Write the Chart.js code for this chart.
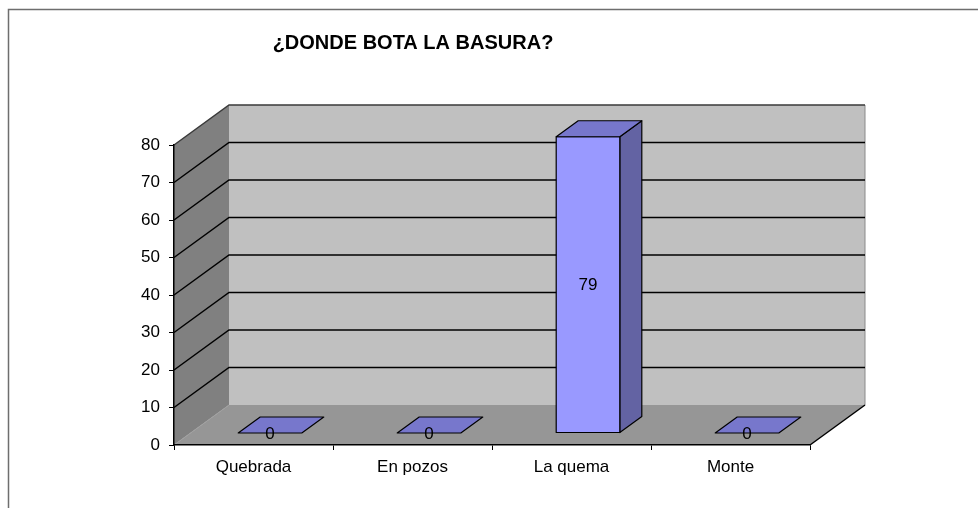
<!DOCTYPE html>
<html>
<head>
<meta charset="utf-8">
<script src="https://cdn.jsdelivr.net/npm/chart.js@4.4.1/dist/chart.umd.min.js"></script>
<style>
  html, body { margin: 0; padding: 0; background: #fff; }
  canvas { display: block; }
</style>
</head>
<body>
<canvas id="grafico" width="978" height="508"></canvas>
<script>
// datos de la encuesta
const titulo = '¿DONDE BOTA LA BASURA?';
const categorias = ['Quebrada', 'En pozos', 'La quema', 'Monte'];
const valores = [0, 0, 79, 0];
const ticksY = [0, 10, 20, 30, 40, 50, 60, 70, 80];

const fuente = "'Liberation Sans', Arial, sans-serif";
// desplazamiento hacia la pared del fondo (efecto 3D)
const prof = { dx: 55, dy: -40 };
const frenteBarra = 0.3, fondoBarra = 0.7;

const colores = {
  fondo: '#c0c0c0', lateral: '#808080', piso: '#969696',
  frente: '#9999ff', tapa: '#7777cc', lado: '#6363a3'
};

function poligono(ctx, pts, relleno, trazo, grosor) {
  ctx.beginPath();
  ctx.moveTo(pts[0][0], pts[0][1]);
  for (let i = 1; i < pts.length; i++) ctx.lineTo(pts[i][0], pts[i][1]);
  ctx.closePath();
  if (relleno) { ctx.fillStyle = relleno; ctx.fill(); }
  if (trazo) { ctx.strokeStyle = trazo; ctx.lineWidth = grosor || 1; ctx.stroke(); }
}

// paredes, piso y lineas de division
const paredes = {
  id: 'paredes',
  beforeDraw(chart) {
    const { ctx, chartArea: a, scales: { y } } = chart;
    const dx = prof.dx, dy = prof.dy;
    ctx.save();

    // marco del grafico
    ctx.strokeStyle = '#6e6e6e';
    ctx.lineWidth = 1.5;
    ctx.beginPath();
    ctx.moveTo(8.5, 508); ctx.lineTo(8.5, 9.5); ctx.lineTo(978, 9.5);
    ctx.stroke();

    // pared del fondo
    poligono(ctx, [[a.left + dx, a.top + dy], [a.right + dx, a.top + dy],
      [a.right + dx, a.bottom + dy], [a.left + dx, a.bottom + dy]], colores.fondo);
    // pared lateral
    poligono(ctx, [[a.left, a.bottom], [a.left, a.top], [a.left + dx, a.top + dy],
      [a.left + dx, a.bottom + dy]], colores.lateral);
    // piso
    poligono(ctx, [[a.left, a.bottom], [a.right, a.bottom], [a.right + dx, a.bottom + dy],
      [a.left + dx, a.bottom + dy]], colores.piso);

    // borde derecho de la pared del fondo
    ctx.strokeStyle = '#8a8a8a';
    ctx.lineWidth = 1;
    ctx.beginPath();
    ctx.moveTo(a.right + dx, a.top + dy); ctx.lineTo(a.right + dx, a.bottom + dy);
    ctx.stroke();

    // lineas de division
    ticksY.forEach(v => {
      const py = y.getPixelForValue(v);
      ctx.beginPath();
      if (v === 0) {
        ctx.strokeStyle = '#a0a0a0';
        ctx.lineWidth = 1;
        ctx.moveTo(a.left, py); ctx.lineTo(a.left + dx, py + dy);
      } else {
        ctx.strokeStyle = v === 80 ? '#3a3a3a' : '#000';
        ctx.lineWidth = 1.5;
        ctx.moveTo(a.left, py); ctx.lineTo(a.left + dx, py + dy); ctx.lineTo(a.right + dx, py + dy);
      }
      ctx.stroke();
    });

    // borde derecho del piso
    ctx.strokeStyle = '#000';
    ctx.lineWidth = 1.5;
    ctx.beginPath();
    ctx.moveTo(a.right, a.bottom); ctx.lineTo(a.right + dx, a.bottom + dy);
    ctx.stroke();
    ctx.restore();
  },
  afterDraw(chart) {
    const { ctx } = chart;
    ctx.save();
    ctx.fillStyle = '#000';
    ctx.font = 'bold 20px ' + fuente;
    ctx.textAlign = 'center';
    ctx.textBaseline = 'alphabetic';
    ctx.fillText(titulo, 413, 49);
    ctx.restore();
  }
};

// barras en 3D con su etiqueta
const barras3d = {
  id: 'barras3d',
  afterDatasetsDraw(chart) {
    const { ctx } = chart;
    const meta = chart.getDatasetMeta(0);
    const ox = prof.dx * (fondoBarra - frenteBarra);
    const oy = prof.dy * (fondoBarra - frenteBarra);
    ctx.save();
    ctx.lineJoin = 'round';
    meta.data.forEach((bar, i) => {
      const w = bar.width;
      const x0 = bar.x - w / 2 + prof.dx * frenteBarra;
      const x1 = x0 + w;
      const yt = bar.y + prof.dy * frenteBarra;
      const yb = bar.base + prof.dy * frenteBarra;
      if (yb - yt > 0.5) {
        poligono(ctx, [[x1, yt], [x1 + ox, yt + oy], [x1 + ox, yb + oy], [x1, yb]], colores.lado, '#000', 1.2);
        poligono(ctx, [[x0, yt], [x1, yt], [x1, yb], [x0, yb]], colores.frente, '#000', 1.2);
      }
      poligono(ctx, [[x0, yt], [x1, yt], [x1 + ox, yt + oy], [x0 + ox, yt + oy]], colores.tapa, '#000', 1.2);

      ctx.fillStyle = '#000';
      ctx.font = '17px ' + fuente;
      ctx.textAlign = 'center';
      ctx.textBaseline = 'middle';
      ctx.fillText(String(valores[i]), (x0 + x1) / 2, (yt + yb) / 2 + 1);
    });
    ctx.restore();
  }
};

new Chart(document.getElementById('grafico'), {
  type: 'bar',
  data: {
    labels: categorias,
    datasets: [{
      data: valores,
      backgroundColor: 'rgba(0,0,0,0)',
      borderWidth: 0,
      barPercentage: 0.4,
      categoryPercentage: 1
    }]
  },
  options: {
    responsive: false,
    animation: false,
    layout: { padding: { top: 145, right: 168, bottom: 0, left: 0 } },
    plugins: {
      legend: { display: false },
      title: { display: false },
      tooltip: { enabled: false }
    },
    scales: {
      x: {
        grid: { drawOnChartArea: false, tickLength: 5, color: '#000', offset: true },
        border: { display: true, color: '#000', width: 1.5 },
        ticks: { color: '#000', font: { family: fuente, size: 17 }, padding: 7, maxRotation: 0 },
        afterFit(s) { s.height = 63; }
      },
      y: {
        min: 0,
        max: 80,
        afterBuildTicks(s) { s.ticks = ticksY.map(v => ({ value: v })); },
        grid: { drawOnChartArea: false, tickLength: 5, color: '#000' },
        border: { display: true, color: '#000', width: 1.5 },
        ticks: { color: '#000', font: { family: fuente, size: 17 }, padding: 9 },
        afterFit(s) { s.width = 174; }
      }
    }
  },
  plugins: [paredes, barras3d]
});
</script>
</body>
</html>
